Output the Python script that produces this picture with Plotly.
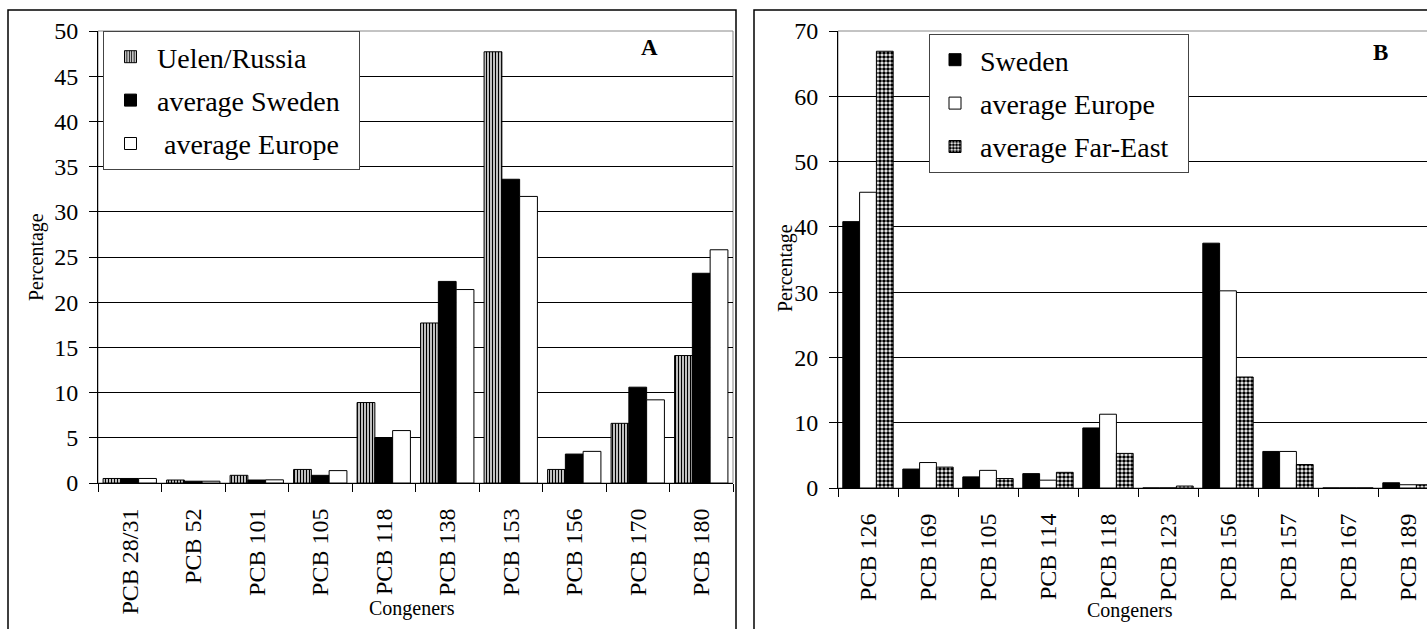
import plotly.graph_objects as go

W, H = 1427, 629

# ---------------- data ----------------
cats_a = ["PCB 28/31", "PCB 52", "PCB 101", "PCB 105", "PCB 118",
          "PCB 138", "PCB 153", "PCB 156", "PCB 170", "PCB 180"]
uelen_russia = [0.5, 0.33, 0.85, 1.5, 8.9, 17.7, 47.7, 1.5, 6.6, 14.1]
avg_sweden = [0.5, 0.2, 0.33, 0.85, 5.0, 22.3, 33.6, 3.2, 10.6, 23.2]
avg_europe_a = [0.5, 0.2, 0.35, 1.37, 5.8, 21.4, 31.7, 3.5, 9.2, 25.8]

cats_b = ["PCB 126", "PCB 169", "PCB 105", "PCB 114", "PCB 118",
          "PCB 123", "PCB 156", "PCB 157", "PCB 167", "PCB 189"]
sweden_b = [40.8, 2.9, 1.7, 2.2, 9.2, 0.0, 37.5, 5.6, 0.0, 0.8]
avg_europe_b = [45.3, 3.9, 2.7, 1.2, 11.3, 0.0, 30.2, 5.6, 0.0, 0.5]
avg_far_east = [66.9, 3.2, 1.45, 2.4, 5.3, 0.3, 17.0, 3.6, 0.0, 0.5]

FONT = "Liberation Serif, Times New Roman, serif"
NB = "\u00a0"


def px(x):
    return x / W


def py(y):
    return 1 - y / H


fig = go.Figure()
line = dict(color="black", width=1)

# Panel A
fig.add_trace(go.Bar(x=cats_a, y=uelen_russia, name="Uelen/Russia",
                     marker=dict(color="white", line=line,
                                 pattern=dict(shape="|", fgcolor="black", bgcolor="white",
                                              size=3, solidity=0.5)),
                     legendgroup="a1", legend="legend", xaxis="x", yaxis="y"))
fig.add_trace(go.Bar(x=cats_a, y=avg_sweden, name="average Sweden" + NB * 2,
                     marker=dict(color="black", line=line),
                     legendgroup="a2", legend="legend", xaxis="x", yaxis="y"))
fig.add_trace(go.Bar(x=cats_a, y=avg_europe_a, name=NB + "average Europe",
                     marker=dict(color="white", line=line),
                     legendgroup="a3", legend="legend", xaxis="x", yaxis="y"))

# Panel B
fig.add_trace(go.Bar(x=cats_b, y=sweden_b, name="Sweden",
                     marker=dict(color="black", line=line),
                     legendgroup="b1", legend="legend2", xaxis="x2", yaxis="y2"))
fig.add_trace(go.Bar(x=cats_b, y=avg_europe_b, name="average Europe",
                     marker=dict(color="white", line=line),
                     legendgroup="b2", legend="legend2", xaxis="x2", yaxis="y2"))
fig.add_trace(go.Bar(x=cats_b, y=avg_far_east, name="average Far-East" + NB * 2,
                     marker=dict(color="white", line=line,
                                 pattern=dict(shape=".", fgcolor="black", bgcolor="white",
                                              size=4, solidity=0.65)),
                     legendgroup="b3", legend="legend2", xaxis="x2", yaxis="y2"))

tickfont = dict(family=FONT, size=24, color="black")
xcommon = dict(type="category", tickangle=-90, ticks="outside", ticklen=8, tickcolor="black",
               tickson="boundaries", showline=True, linecolor="black", linewidth=1,
               showgrid=False, tickfont=tickfont, fixedrange=True, automargin=False,
               ticklabelstandoff=15)
ycommon = dict(ticks="outside", ticklen=8, tickcolor="black", showline=True, linecolor="black",
               linewidth=1, showgrid=True, gridcolor="black", gridwidth=1, tickfont=tickfont,
               zeroline=False, fixedrange=True, automargin=False, ticklabelstandoff=6)

legfont = dict(family=FONT, size=28, color="black")
fig.update_layout(
    template="none",
    width=W, height=H,
    margin=dict(l=0, r=0, t=0, b=0, autoexpand=False),
    paper_bgcolor="white", plot_bgcolor="white",
    font=dict(family=FONT, color="black"),
    barmode="group", bargap=0.16, bargroupgap=0,
    xaxis=dict(domain=[px(98), px(733)], anchor="y", range=[-0.5, 9.5], **xcommon),
    yaxis=dict(domain=[py(483), py(31)], anchor="x", range=[0, 50], dtick=5, **ycommon),
    xaxis2=dict(domain=[px(838), 1], anchor="y2", range=[-0.5, 9.5 - 11 / 60], **xcommon),
    yaxis2=dict(domain=[py(488), py(31)], anchor="x2", range=[0, 70], dtick=10, **ycommon),
    legend=dict(x=px(103), y=py(31), xanchor="left", yanchor="top",
                bgcolor="white", bordercolor="#444", borderwidth=1,
                font=legfont, tracegroupgap=4, traceorder="grouped", itemwidth=43),
    legend2=dict(x=px(929), y=py(34), xanchor="left", yanchor="top",
                 bgcolor="white", bordercolor="#444", borderwidth=1,
                 font=legfont, tracegroupgap=4, traceorder="grouped", itemwidth=40),
    showlegend=True,
)

shapes = [
    # outer panel boxes
    dict(type="rect", xref="paper", yref="paper", x0=px(8), x1=px(736), y0=py(640), y1=py(10),
         line=dict(color="black", width=1.5), layer="below"),
    dict(type="rect", xref="paper", yref="paper", x0=px(754), x1=px(1440), y0=py(640), y1=py(10),
         line=dict(color="black", width=1.5), layer="below"),
    # plot area frames (gray)
    dict(type="rect", xref="paper", yref="paper", x0=px(98), x1=px(733), y0=py(483), y1=py(31),
         line=dict(color="#888", width=1), layer="below"),
    dict(type="rect", xref="paper", yref="paper", x0=px(838), x1=px(1440), y0=py(488), y1=py(31),
         line=dict(color="#888", width=1), layer="below"),
]
fig.update_layout(shapes=shapes)

annfont = dict(family=FONT, size=20, color="black")
fig.update_layout(annotations=[
    dict(text="Percentage", x=px(36), y=py(257), xref="paper", yref="paper", textangle=-90,
         showarrow=False, font=annfont, xanchor="center", yanchor="middle"),
    dict(text="Percentage", x=px(785), y=py(268), xref="paper", yref="paper", textangle=-90,
         showarrow=False, font=annfont, xanchor="center", yanchor="middle"),
    dict(text="Congeners", x=px(412), y=py(608), xref="paper", yref="paper",
         showarrow=False, font=annfont, xanchor="center", yanchor="middle"),
    dict(text="Congeners", x=px(1130), y=py(610), xref="paper", yref="paper",
         showarrow=False, font=annfont, xanchor="center", yanchor="middle"),
    dict(text="<b>A</b>", x=px(649), y=py(48), xref="paper", yref="paper",
         showarrow=False, font=dict(family=FONT, size=23, color="black"),
         xanchor="center", yanchor="middle"),
    dict(text="<b>B</b>", x=px(1380), y=py(53), xref="paper", yref="paper",
         showarrow=False, font=dict(family=FONT, size=23, color="black"),
         xanchor="center", yanchor="middle"),
])

fig.write_html("out.html", config={"displayModeBar": False},
               post_script="document.body.style.margin='0px';document.body.style.overflow='hidden';")
